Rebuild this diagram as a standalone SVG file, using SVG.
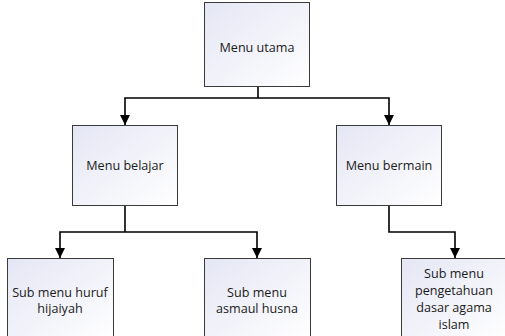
<svg xmlns="http://www.w3.org/2000/svg" width="505" height="336" viewBox="0 0 505 336">
  <style>
    .box { stroke: #3a3a3a; stroke-width: 1; fill: url(#boxFill); }
    .lbl { font-family: "Open Sans", "Liberation Sans", sans-serif; font-size: 12.6px; fill: #1a1a1a; text-anchor: middle; }
    .wire { fill: none; stroke: #000; stroke-width: 1.6; marker-end: url(#arrow); }
    .plain { fill: none; stroke: #000; stroke-width: 1.6; }
  </style>
  <defs>
    <linearGradient id="boxFill" x1="0" y1="0" x2="1" y2="1">
      <stop offset="0" stop-color="#e4e6f4"/>
      <stop offset="1" stop-color="#ffffff"/>
    </linearGradient>
    <marker id="arrow" viewBox="0 0 10 10" refX="10" refY="5" markerWidth="11" markerHeight="10" markerUnits="userSpaceOnUse" orient="auto">
      <path d="M0,0 L10,5 L0,10 Z" fill="#000"/>
    </marker>
  </defs>

  <g id="connectors">
    <path class="plain" d="M258,86 V98"/>
    <path class="wire" d="M258,98 H125 V125"/>
    <path class="wire" d="M258,98 H389 V125"/>
    <path class="plain" d="M125,205 V232"/>
    <path class="wire" d="M125,232 H60 V258"/>
    <path class="wire" d="M125,232 H257 V258"/>
    <path class="wire" d="M389,205 V232 H455 V258"/>
  </g>

  <g id="menu-utama">
    <rect class="box" x="204.5" y="2.5" width="105" height="84"/>
    <text class="lbl" x="257" y="52">Menu utama</text>
  </g>
  <g id="menu-belajar">
    <rect class="box" x="72.5" y="125.5" width="105" height="80"/>
    <text class="lbl" x="125" y="170">Menu belajar</text>
  </g>
  <g id="menu-bermain">
    <rect class="box" x="336.5" y="125.5" width="105" height="80"/>
    <text class="lbl" x="389" y="170">Menu bermain</text>
  </g>
  <g id="sub-huruf">
    <rect class="box" x="7.5" y="258.5" width="106" height="82"/>
    <text class="lbl" x="60" y="297">Sub menu huruf</text>
    <text class="lbl" x="60" y="313">hijaiyah</text>
  </g>
  <g id="sub-asmaul">
    <rect class="box" x="204.5" y="258.5" width="106" height="82"/>
    <text class="lbl" x="257" y="297">Sub menu</text>
    <text class="lbl" x="257" y="313">asmaul husna</text>
  </g>
  <g id="sub-pengetahuan">
    <rect class="box" x="401.5" y="258.5" width="106" height="82"/>
    <text class="lbl" x="454" y="278">Sub menu</text>
    <text class="lbl" x="454" y="295">pengetahuan</text>
    <text class="lbl" x="454" y="312">dasar agama</text>
    <text class="lbl" x="454" y="329">islam</text>
  </g>
</svg>
